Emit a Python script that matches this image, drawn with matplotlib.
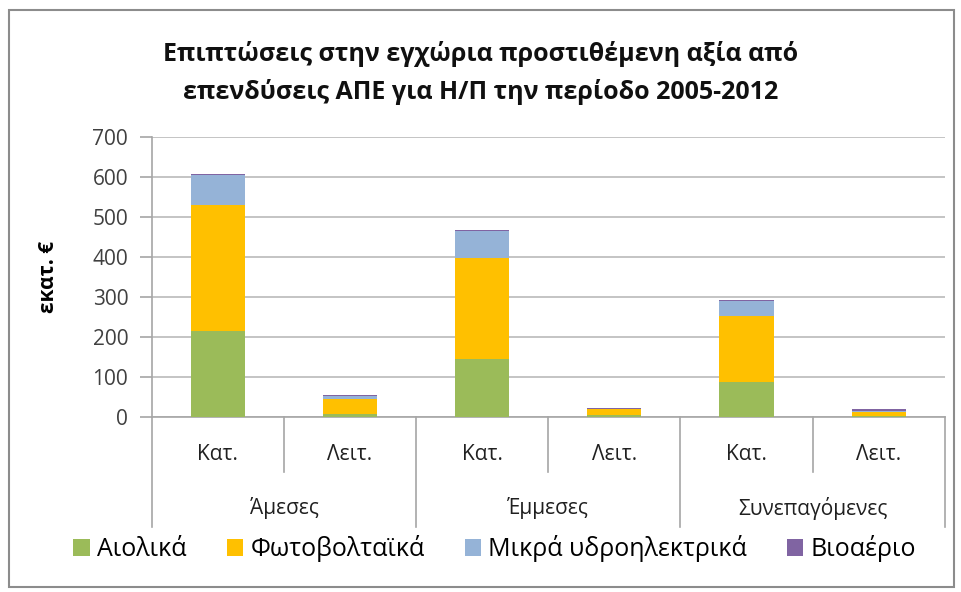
import matplotlib.pyplot as plt
import matplotlib.transforms as mtransforms
from matplotlib.patches import Rectangle
import numpy as np

plt.rcParams['font.family'] = ['Open Sans', 'DejaVu Sans']

# Δεδομένα (εκατ. €)
groups = ['Άμεσες', 'Έμμεσες', 'Συνεπαγόμενες']
subcats = ['Κατ.', 'Λειτ.', 'Κατ.', 'Λειτ.', 'Κατ.', 'Λειτ.']
aiolika = [215, 8, 145, 5, 87, 3]
fotovoltaika = [315, 38, 253, 14, 165, 10]
ydroilektrika = [75, 6, 66, 2, 37, 3]
vioaerio = [2, 3, 3, 2, 4, 3]

series = [
    ('Αιολικά', aiolika, '#9BBB59'),
    ('Φωτοβολταϊκά', fotovoltaika, '#FFC000'),
    ('Μικρά υδροηλεκτρικά', ydroilektrika, '#95B3D7'),
    ('Βιοαέριο', vioaerio, '#8064A2'),
]

fig = plt.figure(figsize=(9.61, 5.92), dpi=100)
ax = fig.add_axes([0.158, 0.2956, 0.825, 0.473])

x = np.arange(len(subcats)) + 0.5
bottom = np.zeros(len(subcats))
for name, vals, col in series:
    ax.bar(x, vals, width=0.41, bottom=bottom, color=col, label=name, zorder=3)
    bottom += np.array(vals)

ax.set_xlim(0, 6)
ax.set_ylim(0, 700)
ax.set_yticks(range(0, 701, 100))
ax.tick_params(axis='y', labelsize=15, colors='#404040', length=9, width=1.2,
               color='#A6A6A6', pad=8)
ax.set_xticks([])
ax.grid(axis='y', color='#BFBFBF', linewidth=1.3, zorder=0)
for s in ['top', 'right']:
    ax.spines[s].set_visible(False)
ax.spines['left'].set_color('#A6A6A6')
ax.spines['left'].set_linewidth(1.2)
ax.spines['bottom'].set_color('#A6A6A6')
ax.spines['bottom'].set_linewidth(1.2)

ax.set_ylabel('εκατ. €', fontsize=15, fontweight='bold', labelpad=24)

# Πολυεπίπεδος άξονας κατηγοριών
trans = mtransforms.blended_transform_factory(ax.transData, ax.transAxes)
for i, lab in enumerate(subcats):
    ax.text(x[i], -0.135, lab, transform=trans, ha='center', va='center',
            fontsize=15, color='#202020')
for b in range(7):
    y_end = -0.393 if b % 2 == 0 else -0.196
    ax.plot([b, b], [0, y_end], transform=trans, color='#A6A6A6',
            linewidth=1.2, clip_on=False)
for g, lab in enumerate(groups):
    ax.text(2 * g + 1, -0.325, lab, transform=trans, ha='center', va='center',
            fontsize=15, color='#202020')

fig.text(0.5, 0.876, 'Επιπτώσεις στην εγχώρια προστιθέμενη αξία από\n'
         'επενδύσεις ΑΠΕ για Η/Π την περίοδο 2005-2012',
         ha='center', va='center', fontsize=18, fontweight='bold',
         linespacing=1.6, color='#101010')

fig.legend(loc='center', bbox_to_anchor=(0.515, 0.073), ncol=4, frameon=False,
           fontsize=18, handlelength=0.65, handleheight=0.65, handletextpad=0.3,
           columnspacing=1.6)

fig.patches.append(Rectangle((0.009, 0.008), 0.984, 0.975, transform=fig.transFigure,
                             fill=False, edgecolor='#8C8C8C', linewidth=1.5))

plt.savefig('out.png', dpi=100)
